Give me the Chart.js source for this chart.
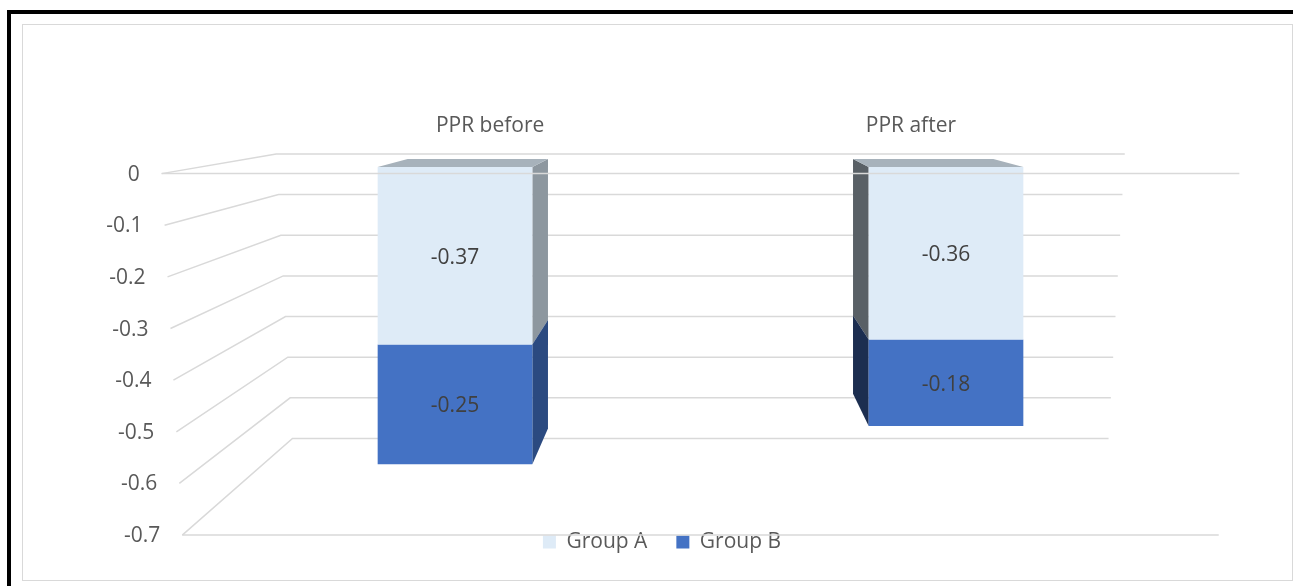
<!DOCTYPE html>
<html><head><meta charset="utf-8">
<script src="https://cdn.jsdelivr.net/npm/chart.js@4.4.1/dist/chart.umd.min.js"></script>
<style>
html,body{margin:0;padding:0;background:#fff;width:1293px;height:586px;overflow:hidden;}
#frame{position:absolute;left:7px;top:10px;width:1400px;height:700px;border-top:4px solid #000;border-left:4px solid #000;box-sizing:border-box;}
#inner{position:absolute;left:22px;top:24px;width:1271px;height:557px;border:1.5px solid #D9D9D9;box-sizing:border-box;}
#wrap{position:absolute;left:0;top:0;width:1293px;height:586px;}
</style></head><body>
<div id="frame"></div><div id="inner"></div>
<div id="wrap"><canvas id="c"></canvas></div>
<script>
// ---- data ----
const categories = ['PPR before', 'PPR after'];
const seriesNames = ['Group A', 'Group B'];
const groupA = [-0.37, -0.36];
const groupB = [-0.25, -0.18];
const yTicks = [0, -0.1, -0.2, -0.3, -0.4, -0.5, -0.6, -0.7];

// ---- style ----
const FONT = "'Open Sans', sans-serif";
const FS = 21;
const frontColors = ['#DEEBF7', '#4472C4'];
const sideLit = ['#8D979F', '#2B4A80'];
const sideShade = ['#596066', '#1C2E50'];
const topColors = ['#A7B2BB', '#3A5E9E'];
const GRID = '#D9D9D9';
const VP_ABOVE = 86;
const K_BAR = 0.907, K_FRONT = 1.077, K_BACK = 0.848, K_LABEL = 0.857;
const SPREAD_TOP = 1.019, SPREAD_BOTTOM = 0.98;

const threeD = {
  id: 'threeD',
  _geo(chart) {
    const a = chart.chartArea;
    const vx = (a.left + a.right) / 2, vy = a.top - VP_ABOVE;
    const proj = (x, y, k) => [vx + (x - vx) * k, vy + (y - vy) * k];
    return {a, vx, vy, proj, half: (a.right - a.left) / 2};
  },
  _wallHalf(g, Y) {
    const t = (Y - g.a.top) / (g.a.bottom - g.a.top);
    return g.half * (SPREAD_TOP + (SPREAD_BOTTOM - SPREAD_TOP) * t);
  },
  beforeDatasetsDraw(chart) {
    const ctx = chart.ctx, g = this._geo(chart), yS = chart.scales.y, xS = chart.scales.x;
    ctx.save();
    ctx.strokeStyle = GRID; ctx.lineWidth = 1.5;
    ctx.font = FS + 'px ' + FONT; ctx.fillStyle = '#595959';
    ctx.textAlign = 'right'; ctx.textBaseline = 'middle';
    yTicks.forEach(v => {
      const Y = yS.getPixelForValue(v);
      const hw = this._wallHalf(g, Y);
      const fl = g.proj(g.vx - hw, Y, K_FRONT), bl = g.proj(g.vx - hw, Y, K_BACK), br = g.proj(g.vx + hw, Y, K_BACK);
      ctx.beginPath(); ctx.moveTo(fl[0], fl[1]); ctx.lineTo(bl[0], bl[1]); ctx.lineTo(br[0], br[1]); ctx.stroke();
      ctx.fillText(String(v), fl[0] - 22, fl[1] + 1);
    });
    // floor front edge
    const yMin = Math.min(...yTicks);
    const Yb = yS.getPixelForValue(yMin), hwb = this._wallHalf(g, Yb);
    const f1 = g.proj(g.vx - hwb, Yb, K_FRONT), f2 = g.proj(g.vx + hwb, Yb, K_FRONT);
    ctx.beginPath(); ctx.moveTo(f1[0], f1[1]); ctx.lineTo(f2[0], f2[1]); ctx.stroke();
    // category labels
    ctx.textAlign = 'center';
    categories.forEach((c, i) => {
      const p = g.proj(xS.getPixelForValue(i), g.a.top - 33.5, K_LABEL);
      ctx.fillText(c, p[0], p[1]);
    });
    // bar side and top faces
    const zeroY = yS.getPixelForValue(0);
    chart.data.datasets.forEach((ds, di) => {
      chart.getDatasetMeta(di).data.forEach(el => {
        const {x, y, base, width} = el.getProps(['x', 'y', 'base', 'width'], true);
        const l = x - width / 2, r = x + width / 2, t = Math.min(y, base), b = Math.max(y, base);
        const rightSide = x < g.vx;
        const ex = rightSide ? r : l;
        const p1 = g.proj(ex, t, K_BAR), p2 = g.proj(ex, b, K_BAR);
        ctx.fillStyle = rightSide ? sideLit[di] : sideShade[di];
        ctx.beginPath(); ctx.moveTo(ex, t); ctx.lineTo(p1[0], p1[1]); ctx.lineTo(p2[0], p2[1]); ctx.lineTo(ex, b); ctx.closePath(); ctx.fill();
        if (Math.abs(t - zeroY) < 0.5) {
          const q1 = g.proj(r, t, K_BAR), q2 = g.proj(l, t, K_BAR);
          ctx.fillStyle = topColors[di];
          ctx.beginPath(); ctx.moveTo(l, t); ctx.lineTo(r, t); ctx.lineTo(q1[0], q1[1]); ctx.lineTo(q2[0], q2[1]); ctx.closePath(); ctx.fill();
        }
      });
    });
    ctx.restore();
  },
  afterDatasetsDraw(chart) {
    const ctx = chart.ctx, g = this._geo(chart), yS = chart.scales.y;
    ctx.save();
    // zero line in front
    const Y0 = yS.getPixelForValue(0), hw = this._wallHalf(g, Y0);
    const a1 = g.proj(g.vx - hw, Y0, K_FRONT), a2 = g.proj(g.vx + hw, Y0, K_FRONT);
    ctx.strokeStyle = GRID; ctx.lineWidth = 1.5;
    ctx.beginPath(); ctx.moveTo(a1[0], a1[1]); ctx.lineTo(a2[0], a2[1]); ctx.stroke();
    // data labels
    ctx.font = FS + 'px ' + FONT; ctx.fillStyle = '#404040';
    ctx.textAlign = 'center'; ctx.textBaseline = 'middle';
    chart.data.datasets.forEach((ds, di) => {
      chart.getDatasetMeta(di).data.forEach((el, i) => {
        const {x, y, base} = el.getProps(['x', 'y', 'base'], true);
        ctx.fillText(String(ds.data[i]), x, (y + base) / 2 + 2);
      });
    });
    ctx.restore();
  }
};

function draw() {
  Chart.defaults.font.family = FONT;
  new Chart(document.getElementById('c'), {
    type: 'bar',
    data: {
      labels: categories,
      datasets: [
        {label: seriesNames[0], data: groupA, backgroundColor: frontColors[0], borderWidth: 0},
        {label: seriesNames[1], data: groupB, backgroundColor: frontColors[1], borderWidth: 0}
      ]
    },
    options: {
      responsive: true, maintainAspectRatio: false, animation: false, events: [],
      layout: {padding: {left: 31, right: 0, top: 167, bottom: 23.4}},
      datasets: {bar: {barPercentage: 0.63, categoryPercentage: 0.5}},
      scales: {
        x: {stacked: true, display: false},
        y: {stacked: true, min: -0.7, max: 0, position: 'left',
            ticks: {display: false, stepSize: 0.1}, grid: {display: false}, border: {display: false},
            afterFit: s => { s.width = 178.5; }},
        yR: {position: 'right', ticks: {display: false}, grid: {display: false}, border: {display: false},
            afterFit: s => { s.width = 101.5; }}
      },
      plugins: {
        tooltip: {enabled: false},
        legend: {position: 'bottom',
          labels: {boxWidth: 13, boxHeight: 13, padding: 29, color: '#595959', font: {size: FS, family: FONT}}}
      }
    },
    plugins: [threeD]
  });
}
if (document.fonts && document.fonts.load) {
  document.fonts.load(FS + "px 'Open Sans'").then(draw, draw);
} else { draw(); }
</script>
</body></html>
